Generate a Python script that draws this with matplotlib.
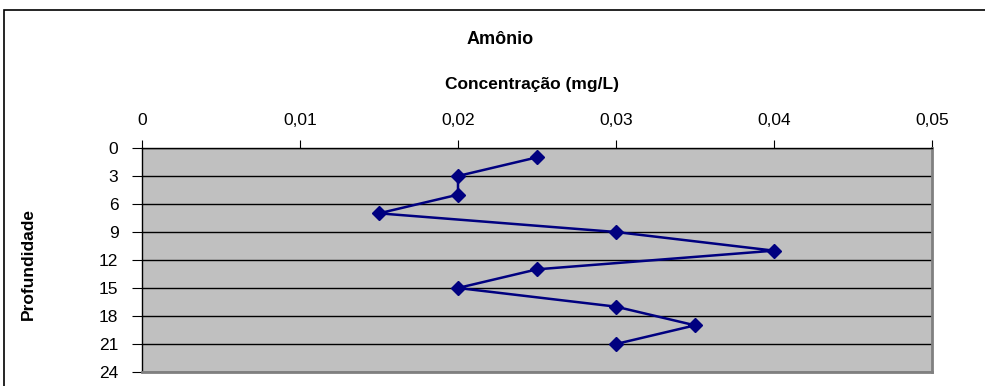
import matplotlib
matplotlib.use("Agg")
import matplotlib.pyplot as plt
from matplotlib.patches import Rectangle
from matplotlib.ticker import FuncFormatter

plt.rcParams['font.family'] = ['Liberation Sans', 'DejaVu Sans']

# dados
concentracao = [0.025, 0.02, 0.02, 0.015, 0.03, 0.04, 0.025, 0.02, 0.03, 0.035, 0.03]
profundidade = [1, 3, 5, 7, 9, 11, 13, 15, 17, 19, 21]
x_ticks = [0, 0.01, 0.02, 0.03, 0.04, 0.05]
y_ticks = [0, 3, 6, 9, 12, 15, 18, 21, 24]

W, H = 985, 386
fig = plt.figure(figsize=(W / 100, H / 100), dpi=100)
ax = fig.add_axes([142/W, 1-372/H, (932-142)/W, (372-148)/H])

# moldura externa
fig.patches.append(Rectangle((4/W, -0.2), 1.2, 1.2 - 10/H, transform=fig.transFigure,
                             fill=False, edgecolor='black', linewidth=1.2))

ax.set_facecolor('#C0C0C0')
ax.plot(concentracao, profundidade, '-D', color='#000080', markersize=7, linewidth=1.8, zorder=3)

ax.set_xlim(0, 0.05)
ax.set_ylim(24, 0)
ax.set_xticks(x_ticks)
ax.set_yticks(y_ticks)
ax.xaxis.set_major_formatter(FuncFormatter(lambda v, p: ('%g' % round(v, 3)).replace('.', ',')))
ax.xaxis.tick_top()
ax.tick_params(axis='x', labelsize=12.5, length=6, pad=8.5, color='black')
ax.tick_params(axis='y', labelsize=12.5, length=7, pad=10, color='black')
ax.grid(axis='y', color='black', linewidth=1)
ax.set_axisbelow(True)

for s in ['left', 'top']:
    ax.spines[s].set_color('black')
    ax.spines[s].set_linewidth(1)
for s in ['right', 'bottom']:
    ax.spines[s].set_color('#808080')
    ax.spines[s].set_linewidth(2)

fig.text(500/W, 1 - 39/H, 'Amônio', fontsize=13, fontweight='bold', ha='center', va='center')
fig.text(532/W, 1 - 85/H, 'Concentração (mg/L)', fontsize=12.5, fontweight='bold', ha='center', va='center')
fig.text(28/W, 1 - 264/H, 'Profundidade', fontsize=12.5, fontweight='bold', ha='center', va='center',
         rotation=90)

fig.savefig('out.png', dpi=100)
